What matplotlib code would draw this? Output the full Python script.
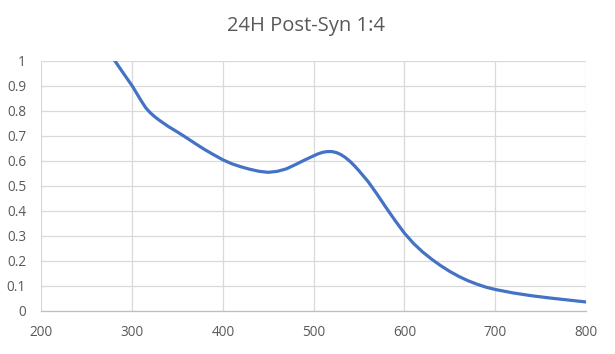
import matplotlib
matplotlib.use("Agg")
import matplotlib.pyplot as plt

wavelength = [270, 280, 290, 300, 305, 310, 315, 320, 325, 330, 340, 350, 360,
              370, 380, 390, 400, 410, 420, 430, 440, 450, 460, 470, 480, 490,
              500, 505, 510, 515, 520, 525, 530, 535, 540, 545, 550, 560, 570,
              580, 590, 600, 610, 620, 630, 640, 650, 660, 670, 680, 690, 700,
              720, 740, 760, 780, 800]
absorbance = [1.06, 1.005, 0.952, 0.900, 0.870, 0.840, 0.812, 0.792, 0.776,
              0.762, 0.737, 0.715, 0.692, 0.668, 0.645, 0.624, 0.604, 0.588,
              0.576, 0.566, 0.558, 0.554, 0.558, 0.568, 0.585, 0.603, 0.620,
              0.628, 0.634, 0.637, 0.637, 0.633, 0.625, 0.613, 0.598, 0.580,
              0.560, 0.517, 0.466, 0.412, 0.360, 0.311, 0.270, 0.236, 0.207,
              0.181, 0.158, 0.138, 0.121, 0.107, 0.095, 0.086, 0.072, 0.061,
              0.052, 0.044, 0.036]
x_ticks = [200, 300, 400, 500, 600, 700, 800]
y_ticks = [0, 0.1, 0.2, 0.3, 0.4, 0.5, 0.6, 0.7, 0.8, 0.9, 1]
y_labels = ["0", "0.1", "0.2", "0.3", "0.4", "0.5", "0.6", "0.7", "0.8", "0.9", "1"]
title = "24H Post-Syn 1:4"

plt.rcParams['font.family'] = ['Open Sans', 'DejaVu Sans']

fig = plt.figure(figsize=(6.15, 3.54), dpi=100)
ax = fig.add_axes([0.0672, 0.1215, 0.8856, 0.707])

ax.plot(wavelength, absorbance, color="#4472C4", linewidth=2.3,
        solid_capstyle="round", solid_joinstyle="round", zorder=3)

ax.set_xlim(200, 800)
ax.set_ylim(0, 1)
ax.set_xticks(x_ticks)
ax.set_xticklabels([str(v) for v in x_ticks])
ax.set_yticks(y_ticks)
ax.set_yticklabels(y_labels)

ax.grid(True, color="#D9D9D9", linewidth=0.9, zorder=0)
ax.set_axisbelow(True)
for s in ["top", "right", "left"]:
    ax.spines[s].set_visible(False)
ax.spines["bottom"].set_color("#BFBFBF")
ax.spines["bottom"].set_linewidth(0.9)

ax.tick_params(axis="both", length=0, labelsize=9.8, labelcolor="#595959")
ax.tick_params(axis="y", pad=11)
ax.tick_params(axis="x", pad=10)

fig.text(0.498, 0.927, title, ha="center", va="center", fontsize=14.5,
         color="#595959")

fig.savefig("out.png", dpi=100, facecolor="white")
